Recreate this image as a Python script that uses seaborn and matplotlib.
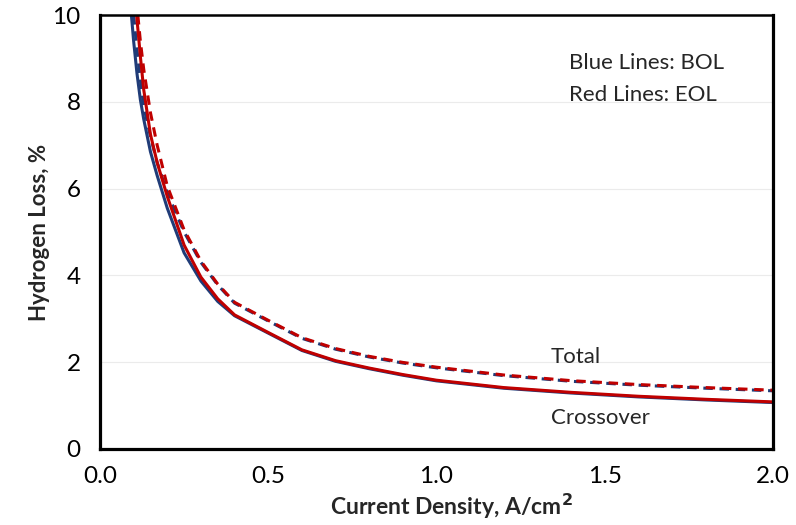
import numpy as np
import pandas as pd
import matplotlib
matplotlib.use("Agg")
import matplotlib.pyplot as plt
import seaborn as sns
from matplotlib.ticker import MultipleLocator

# ---- data ----
current_density = [0.09, 0.10, 0.11, 0.12, 0.13, 0.15, 0.17, 0.20, 0.25, 0.30, 0.35, 0.40,
                   0.50, 0.60, 0.70, 0.80, 0.90, 1.00, 1.20, 1.40, 1.60, 1.80, 2.00]
crossover_bol = [10.3, 9.4, 8.65, 8.05, 7.6, 6.85, 6.3, 5.55, 4.52, 3.87, 3.40, 3.07,
                 2.67, 2.27, 2.02, 1.85, 1.70, 1.57, 1.40, 1.29, 1.20, 1.13, 1.07]
crossover_eol = [12.5, 11.0, 9.9, 9.05, 8.28, 7.25, 6.6, 5.82, 4.70, 3.96, 3.46, 3.09,
                 2.685, 2.285, 2.035, 1.865, 1.715, 1.585, 1.415, 1.305, 1.215, 1.145, 1.085]
total_bol = [11.2, 10.0, 9.2, 8.5, 7.9, 7.2, 6.6, 5.9, 5.0, 4.30, 3.78, 3.36,
             2.95, 2.55, 2.30, 2.12, 1.98, 1.87, 1.69, 1.56, 1.47, 1.40, 1.34]
total_eol = [12.8, 11.3, 10.2, 9.4, 8.75, 7.75, 7.0, 6.06, 5.05, 4.33, 3.80, 3.38,
             2.965, 2.565, 2.315, 2.135, 1.995, 1.885, 1.705, 1.575, 1.485, 1.415, 1.355]

x_ticks = [0.0, 0.5, 1.0, 1.5, 2.0]
y_ticks = [0, 2, 4, 6, 8, 10]

BLUE = "#203C78"
RED = "#C00000"

sns.set_style("white")
plt.rcParams['font.family'] = ['Lato', 'DejaVu Sans']

fig = plt.figure(figsize=(7.96, 5.25), dpi=100)
ax = fig.add_axes([0.1256, 0.1448, 0.8454, 0.8266])

df = pd.DataFrame({
    "x": current_density,
    "cb": crossover_bol, "ce": crossover_eol,
    "tb": total_bol, "te": total_eol,
})

lw = 2.2
dash = (0, (3.1, 2.2))
sns.lineplot(data=df, x="x", y="tb", ax=ax, color=BLUE, lw=lw, linestyle=dash)
sns.lineplot(data=df, x="x", y="te", ax=ax, color=RED, lw=lw, linestyle=dash)
sns.lineplot(data=df, x="x", y="cb", ax=ax, color=BLUE, lw=lw)
sns.lineplot(data=df, x="x", y="ce", ax=ax, color=RED, lw=lw)

ax.set_xlim(0, 2.0)
ax.set_ylim(0, 10)
ax.set_xticks(x_ticks)
ax.set_xticklabels([f"{v:.1f}" for v in x_ticks])
ax.set_yticks(y_ticks)
ax.set_yticklabels([str(v) for v in y_ticks])
ax.xaxis.set_minor_locator(MultipleLocator(0.1))
ax.yaxis.set_minor_locator(MultipleLocator(0.4))

ax.tick_params(axis="both", which="major", direction="in", length=7, width=1.2,
               color="#555555", labelsize=17.5, labelcolor="black")
ax.tick_params(axis="x", which="major", pad=12)
ax.tick_params(axis="y", which="major", pad=14)
ax.tick_params(axis="both", which="minor", direction="in", length=4, width=1.2,
               color="#555555")

ax.grid(axis="y", which="major", color="#EBEBEB", lw=0.8)
ax.grid(axis="x", visible=False)

for side in ["left", "bottom", "right"]:
    ax.spines[side].set_linewidth(2.3)
    ax.spines[side].set_color("black")
ax.spines["top"].set_linewidth(1.8)
ax.spines["top"].set_color("black")

ax.set_xlabel("Current Density, A/cm$^\\mathbf{2}$", fontsize=16.5, fontweight="bold")
ax.xaxis.set_label_coords(0.522, -0.098)
ax.set_ylabel("Hydrogen Loss, %", fontsize=16, fontweight="bold", labelpad=2)

ax.text(1.394, 8.89, "Blue Lines: BOL", fontsize=16, va="center", ha="left")
ax.text(1.394, 8.16, "Red Lines: EOL", fontsize=16, va="center", ha="left")
ax.text(1.34, 2.12, "Total", fontsize=16, va="center", ha="left")
ax.text(1.34, 0.71, "Crossover", fontsize=16, va="center", ha="left")

fig.savefig("out.png", dpi=100)
